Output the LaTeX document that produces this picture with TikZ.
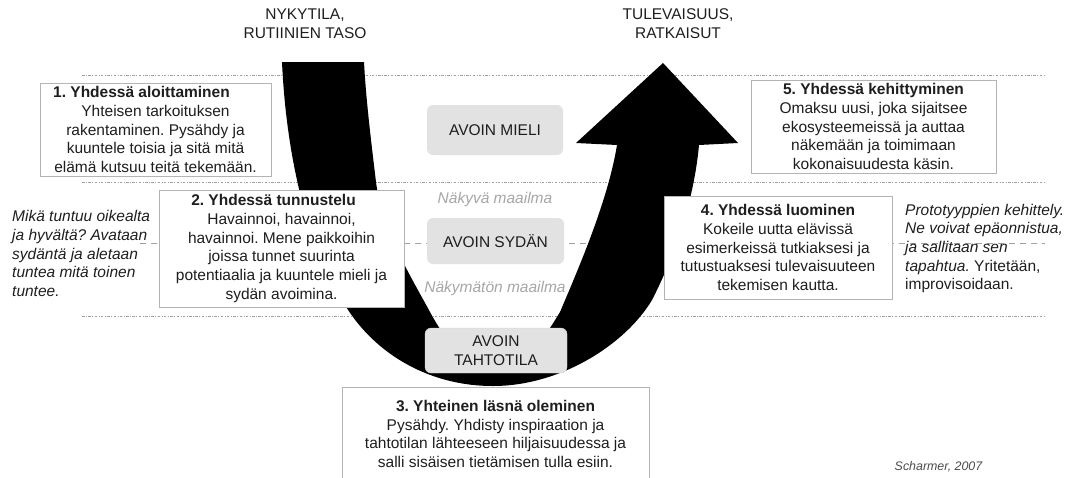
\documentclass[tikz,border=0pt]{standalone}
\usepackage{fontspec}
\setmainfont{Liberation Sans}
\frenchspacing
\definecolor{ink}{HTML}{1E1E1E}
\definecolor{boxline}{HTML}{B4B4B4}
\definecolor{avoinfill}{HTML}{E2E2E2}
\definecolor{levelline}{HTML}{A0A0A0}
\newcommand{\bodyfont}{\fontsize{15.5}{18.7}\selectfont}
\tikzset{
  phase/.style = {draw=boxline, fill=white, line width=1pt, align=center, inner sep=0pt, text=ink},
  openstate/.style = {fill=avoinfill, rounded corners=6pt, align=center, inner sep=0pt, text=ink},
  level/.style = {color=levelline, line width=0.8pt, dash pattern=on 2.5pt off 1.5pt on 0.8pt off 1.5pt},
  midlevel/.style = {color=levelline, line width=0.8pt, dash pattern=on 6pt off 5pt},
  world/.style = {text=gray!70, font=\bodyfont\itshape},
  note/.style = {align=left, inner sep=0pt, anchor=west, text=ink},
  heading/.style = {align=center, inner sep=0pt, text=ink}
}
\begin{document}
\begin{tikzpicture}[x=1pt, y=-1pt, font=\bodyfont]

    \useasboundingbox (0,0) rectangle (1067,477);

    % Levels
    \foreach \y in {75,182,316} {
      \draw[level] (82,\y) -- (1045,\y);
    }
    \draw[midlevel] (140,243) -- (1045,243);

    % U-curve
    \fill[black] (282,62) .. controls (286,150) and (305,240) .. (342,300)
        .. controls (370,350) and (425,386) .. (493,386)
        .. controls (560,386) and (625,345) .. (652,300)
        .. controls (675,255) and (694,200) .. (699,145)
        -- (738,143) -- (663,63) -- (576,143) -- (617,145)
        .. controls (608,200) and (580,265) .. (560,312)
        .. controls (540,345) and (525,366) .. (496,366)
        .. controls (465,366) and (445,340) .. (430,312)
        .. controls (410,275) and (382,230) .. (376,182)
        .. controls (371,140) and (366,100) .. (364,62) -- cycle;

    % Titles
    \node[heading] (now) at (305,24) {NYKYTILA,\\RUTIINIEN TASO};
    \node[heading] (future) at (678,24) {TULEVAISUUS,\\RATKAISUT};

    % Open states
    \node[openstate, minimum width=136, minimum height=50] (mind) at (495,130) {AVOIN MIELI};
    \node[world] (visible) at (495,199) {Näkyvä maailma};
    \node[openstate, minimum width=137, minimum height=46] (heart) at (495.5,241) {AVOIN SYDÄN};
    \node[world] (invisible) at (495,288) {Näkymätön maailma};
    \node[openstate, draw=gray!35, minimum width=142, minimum height=45] (will) at (496,350.5) {AVOIN\\TAHTOTILA};

    % Phases
    \node[phase, minimum width=231, minimum height=93] (p1) at (155.5,129.5)
      {\textbf{1. Yhdessä aloittaminen}\hspace{28pt}\mbox{}\\Yhteisen tarkoituksen\\rakentaminen. Pysähdy ja\\kuuntele toisia ja sitä mitä\\elämä kutsuu teitä tekemään.};
    \node[phase, minimum width=245, minimum height=117] (p2) at (281.5,248.5)
      {\textbf{2. Yhdessä tunnustelu}\hspace{16pt}\mbox{}\\Havainnoi, havainnoi,\\havainnoi. Mene paikkoihin\\joissa tunnet suurinta\\potentiaalia ja kuuntele mieli ja\\sydän avoimina.};
    \node[phase, minimum width=307, minimum height=94] (p3) at (495.5,434)
      {\textbf{3. Yhteinen läsnä oleminen}\\Pysähdy. Yhdisty inspiraation ja\\tahtotilan lähteeseen hiljaisuudessa ja\\salli sisäisen tietämisen tulla esiin.};
    \node[phase, minimum width=228, minimum height=103] (p4) at (778,247.5)
      {\textbf{4. Yhdessä luominen}\\Kokeile uutta elävissä\\esimerkeissä tutkiaksesi ja\\tutustuaksesi tulevaisuuteen\\tekemisen kautta.};
    \node[phase, minimum width=245, minimum height=93] (p5) at (873.5,126.5)
      {\textbf{5. Yhdessä kehittyminen}\\Omaksu uusi, joka sijaitsee\\ekosysteemeissä ja auttaa\\näkemään ja toimimaan\\kokonaisuudesta käsin.};

    % Notes
    \node[note, font=\bodyfont\itshape] (feel) at (12,253.5)
      {Mikä tuntuu oikealta\\ja hyvältä? Avataan\\sydäntä ja aletaan\\tuntea mitä toinen\\tuntee.};
    \node[note] (try) at (905,248.5)
      {\textit{Prototyyppien kehittely.}\\\textit{Ne voivat epäonnistua,}\\\textit{ja sallitaan sen}\\\textit{tapahtua.} Yritetään,\\improvisoidaan.};
    \node[text=ink!80, inner sep=0pt, font=\fontsize{12.4}{14}\selectfont\itshape] (source) at (938.5,467) {Scharmer, 2007};

\end{tikzpicture}
\end{document}
